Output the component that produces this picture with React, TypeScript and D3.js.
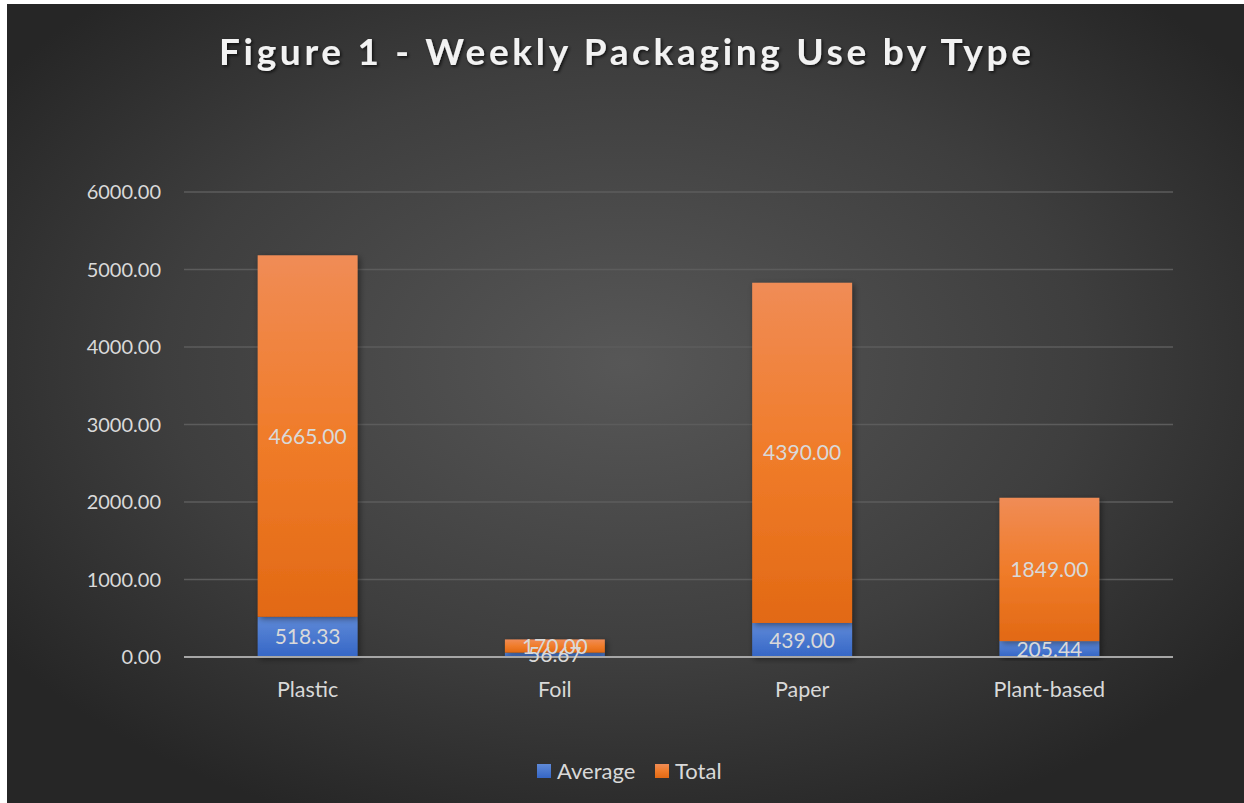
import React from "react";
import * as d3 from "d3";

const categories = ["Plastic", "Foil", "Paper", "Plant-based"];
const averageValues = [518.33, 56.67, 439.0, 205.44];
const totalValues = [4665.0, 170.0, 4390.0, 1849.0];
const yTicks = [0, 1000, 2000, 3000, 4000, 5000, 6000];
const seriesNames = ["Average", "Total"];
const title = "Figure 1 - Weekly Packaging Use by Type";

const W = 1244;
const H = 803;
const plot = { left: 184, right: 1173, top: 192, bottom: 657 };
const FONT = "Lato, 'Open Sans', sans-serif";

export default function App() {
  const x = d3
    .scaleBand<string>()
    .domain(categories)
    .range([plot.left, plot.right])
    .paddingInner(0.596)
    .paddingOuter(0.298);
  const y = d3.scaleLinear().domain([0, 6000]).range([plot.bottom, plot.top]);

  const rows = categories.map((c, i) => ({
    cat: c,
    Average: averageValues[i],
    Total: totalValues[i],
  }));
  const stack = d3.stack<any>().keys(seriesNames)(rows);
  const fills = ["url(#gBlue)", "url(#gOrange)"];
  const fmt = d3.format(".2f");

  return (
    <div style={{ position: "fixed", left: 0, top: 0 }}>
      <svg width={W} height={H} style={{ display: "block", background: "#fff" }}>
        <defs>
          <radialGradient id="bg" cx="50%" cy="45%" r="62%">
            <stop offset="0%" stopColor="#575757" />
            <stop offset="60%" stopColor="#3e3e3e" />
            <stop offset="100%" stopColor="#262626" />
          </radialGradient>
          <linearGradient id="gOrange" x1="0" y1="0" x2="0" y2="1">
            <stop offset="0%" stopColor="#f08c56" />
            <stop offset="50%" stopColor="#f07c2a" />
            <stop offset="100%" stopColor="#e26914" />
          </linearGradient>
          <linearGradient id="gBlue" x1="0" y1="0" x2="0" y2="1">
            <stop offset="0%" stopColor="#5f8ad8" />
            <stop offset="100%" stopColor="#3566c6" />
          </linearGradient>
          <filter id="shadow" x="-20%" y="-20%" width="140%" height="140%">
            <feDropShadow dx="2" dy="2" stdDeviation="3" floodColor="#000" floodOpacity="0.45" />
          </filter>
          <filter id="tshadow" x="-10%" y="-30%" width="120%" height="160%">
            <feDropShadow dx="1.5" dy="1.5" stdDeviation="1.5" floodColor="#000" floodOpacity="0.7" />
          </filter>
        </defs>
        <rect x={7} y={4} width={W - 7} height={H - 4} fill="url(#bg)" />

        <text
          x={625}
          y={65}
          textAnchor="middle"
          fill="#f2f2f2"
          fontFamily={FONT}
          fontWeight={700}
          fontSize={37}
          textLength={812}
          lengthAdjust="spacing"
          filter="url(#tshadow)"
        >
          {title}
        </text>

        {yTicks.map((t) => (
          <g key={t}>
            {t !== 0 && (
              <line x1={plot.left} x2={plot.right} y1={y(t)} y2={y(t)} stroke="#5c5c5c" strokeWidth={1.3} />
            )}
            <text
              x={161}
              y={y(t)}
              dy="0.35em"
              textAnchor="end"
              fill="#d9d9d9"
              fontFamily={FONT}
              fontSize={20}
            >
              {fmt(t)}
            </text>
          </g>
        ))}

        {stack.map((s, si) => (
          <g key={s.key}>
            {s.map((d: any, i: number) => (
              <rect
                key={i}
                x={x(categories[i])}
                y={y(d[1])}
                width={x.bandwidth()}
                height={y(d[0]) - y(d[1])}
                fill={fills[si]}
                filter="url(#shadow)"
              />
            ))}
          </g>
        ))}

        <line x1={plot.left} x2={plot.right} y1={y(0)} y2={y(0)} stroke="#a6a6a6" strokeWidth={2} />

        {stack.map((s) => (
          <g key={"l" + s.key}>
            {s.map((d: any, i: number) => (
              <text
                key={i}
                x={(x(categories[i]) as number) + x.bandwidth() / 2}
                y={(y(d[0]) + y(d[1])) / 2}
                dy="0.36em"
                textAnchor="middle"
                fill="#d9d9d9"
                fontFamily={FONT}
                fontSize={21}
              >
                {fmt(d[1] - d[0])}
              </text>
            ))}
          </g>
        ))}

        {categories.map((c) => (
          <text
            key={c}
            x={(x(c) as number) + x.bandwidth() / 2}
            y={689}
            dy="0.35em"
            textAnchor="middle"
            fill="#d9d9d9"
            fontFamily={FONT}
            fontSize={21.5}
          >
            {c}
          </text>
        ))}

        <g>
          <rect x={537} y={764} width={14} height={14} fill="url(#gBlue)" />
          <text x={557} y={771} dy="0.35em" fill="#d9d9d9" fontFamily={FONT} fontSize={22}>
            {seriesNames[0]}
          </text>
          <rect x={655} y={764} width={14} height={14} fill="url(#gOrange)" />
          <text x={675} y={771} dy="0.35em" fill="#d9d9d9" fontFamily={FONT} fontSize={22}>
            {seriesNames[1]}
          </text>
        </g>
      </svg>
    </div>
  );
}
